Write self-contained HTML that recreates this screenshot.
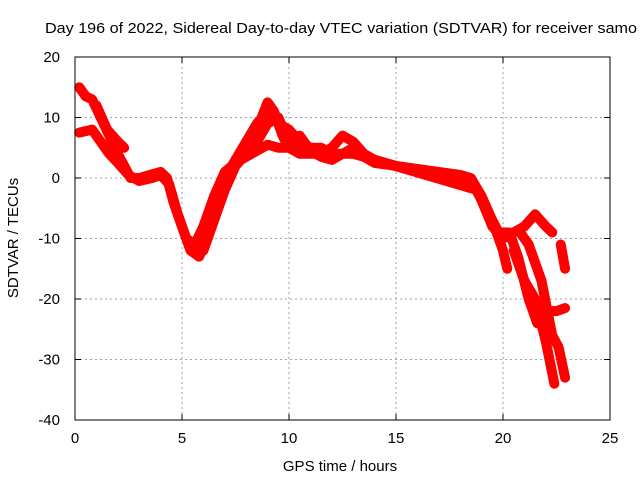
<!DOCTYPE html>
<html><head><meta charset="utf-8"><style>
body{margin:0;background:#fff}
svg{display:block;font-family:"Liberation Sans",sans-serif}
</style></head><body>
<svg id="chart" width="640" height="480">
<text x="45" y="33" font-size="15" textLength="592" lengthAdjust="spacingAndGlyphs">Day 196 of 2022, Sidereal Day-to-day VTEC variation (SDTVAR) for receiver samo</text>
<text x="18" y="238" font-size="15" text-anchor="middle" transform="rotate(-90 18 238)">SDTVAR / TECUs</text>
<text x="340" y="471" font-size="15" text-anchor="middle">GPS time / hours</text>
<g id="grid"></g><g id="ticks"></g><g id="series"></g>
<rect x="75" y="57" width="535" height="363" fill="none" stroke="#000" stroke-width="1"/>
</svg>
<script>
const xTicks=[0,5,10,15,20,25];
const yTicks=[20,10,0,-10,-20,-30,-40];
const seriesA=[[0.2,15],[0.5,13.5],[0.8,13],[1.2,10],[1.6,7],[2.0,4],[2.3,2],[2.6,0],[3.0,0],[3.5,0.5],[4.0,1],[4.3,0],[4.6,-4],[5.0,-8],[5.4,-12],[5.8,-13],[6.2,-10],[6.6,-5],[7.0,0],[7.5,3],[8.0,5],[8.5,8],[9.0,12.5],[9.3,11],[9.7,7],[10.0,5],[10.5,4],[11,4],[11.5,4],[12,5],[12.5,7],[13,6],[13.5,4],[14,3],[15,2],[16,1.5],[17,1],[18,0.5],[18.5,0],[19,-3],[19.5,-7],[20,-12],[20.2,-15]];
const seriesB=[[0.2,7.5],[0.8,8],[1.2,6],[1.6,4],[2.0,2.5],[2.5,0.5],[3.0,-0.5],[3.6,0],[4.0,0.5],[4.4,-1],[4.8,-6],[5.2,-10],[5.6,-11],[6.0,-8],[6.5,-3],[7.0,1],[7.5,2.5],[8.0,3.5],[8.5,4.5],[9.0,5.5],[9.5,5],[10,5],[10.5,7],[11,4.5],[11.5,3.5],[12,3],[12.5,4],[13,5],[13.5,3.5],[14,2.5],[15,2],[16,1.2],[17,0.8],[18,0.3],[18.6,-1],[19.2,-5],[19.8,-9],[20.3,-9],[20.7,-13],[21.2,-20],[21.6,-24],[22.0,-22],[22.5,-22],[22.9,-21.5]];
const seriesC=[[6.0,-12],[6.5,-7],[7.0,-2],[7.5,2],[8.0,4],[8.5,6],[9.0,9],[9.5,10],[10,6],[10.5,5],[11,5],[11.5,5],[12,4],[13,4],[14,3],[18.8,-2],[19.5,-8],[20,-10],[20.5,-9],[21,-8],[21.5,-6],[22,-8],[22.3,-9]];
const seriesD=[[20.5,-12],[21,-17],[21.5,-20],[22,-27],[22.4,-34]];
const seriesE=[[20.8,-9],[21.2,-11],[21.8,-17],[22.3,-26],[22.6,-28],[22.9,-33]];
const seriesF=[[22.7,-11],[22.9,-15]];
const seriesG=[[1.0,12],[1.5,8],[2.0,6],[2.3,5]];
const seriesH=[[7.0,-1],[7.5,3],[8.0,6],[8.5,9],[9.0,11],[9.5,9],[10,8],[10.5,6],[11,5]];
const allSeries=[seriesA,seriesB,seriesC,seriesD,seriesE,seriesF,seriesG,seriesH];
const X=h=>75+h*21.4, Y=v=>178-v*6.05;
const NS="http://www.w3.org/2000/svg";
const grid=document.getElementById('grid'),ticks=document.getElementById('ticks'),ser=document.getElementById('series');
function mk(tag,at,parent){const e=document.createElementNS(NS,tag);for(const k in at)e.setAttribute(k,at[k]);parent.appendChild(e);return e;}
xTicks.forEach(t=>{
 if(t>0&&t<25){const g=mk('line',{x1:X(t),x2:X(t),y1:57,y2:420,stroke:'#a0a0a0','stroke-dasharray':'2,3'},grid);
 
 }
 mk('line',{x1:X(t),x2:X(t),y1:420,y2:414,stroke:'#000'},ticks);
 mk('line',{x1:X(t),x2:X(t),y1:57,y2:63,stroke:'#000'},ticks);
 const l=mk('text',{x:X(t),y:443,'font-size':15,'text-anchor':'middle'},ticks);l.textContent=t;
 
 
});
yTicks.forEach(t=>{
 if(t<20&&t>-40){const g=mk('line',{x1:75,x2:610,y1:Y(t),y2:Y(t),stroke:'#a0a0a0','stroke-dasharray':'2,3'},grid);
 
 }
 mk('line',{x1:75,x2:81,y1:Y(t),y2:Y(t),stroke:'#000'},ticks);
 mk('line',{x1:610,x2:604,y1:Y(t),y2:Y(t),stroke:'#000'},ticks);
 const l=mk('text',{x:60,y:Y(t)+5,'font-size':15,'text-anchor':'end'},ticks);l.textContent=t;
 
 
});
allSeries.forEach((s,i)=>{
 const p=mk('polyline',{points:s.map(d=>X(d[0])+','+Y(d[1])).join(' '),fill:'none',stroke:'#ff0000','stroke-width':10,'stroke-linejoin':'round','stroke-linecap':'round'},ser);
 
 
});
</script>
</body></html>
